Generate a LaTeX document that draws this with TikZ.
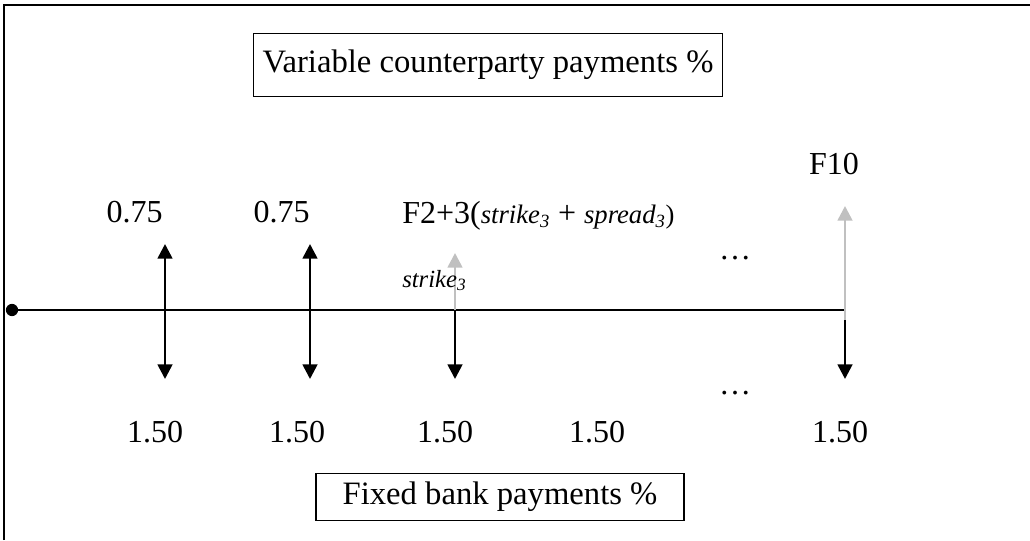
\documentclass[tikz,border=0pt]{standalone}
\usepackage{fontspec}
\setmainfont{Liberation Serif}
\usetikzlibrary{arrows.meta}
\definecolor{lightgr}{RGB}{192,192,192}
\begin{document}
\begin{tikzpicture}[x=0.75pt,y=-0.75pt,
  lbl/.style={font=\fontsize{24}{28}\selectfont, inner sep=0pt},
  boxlbl/.style={draw, line width=1.2pt, font=\fontsize{24.5}{28}\selectfont, inner sep=0pt, minimum height=47.5pt},
  blk/.style={line width=2pt, -{Triangle[width=11pt,length=11pt]}},
  gry/.style={draw=lightgr, line width=2pt, -{Triangle[width=11pt,length=11pt]}, lightgr}
]
\useasboundingbox (0,0) rectangle (1030,540);
% frame
\draw[line width=1.6pt] (4,540) -- (4,5) -- (1030,5);
% boxes
\node[boxlbl, minimum width=352pt] (top) at (488,65) {Variable counterparty payments \%};
\node[boxlbl, minimum width=276pt, minimum height=35pt] (bot) at (500,497) {Fixed bank payments \%};
% timeline
\coordinate (t0) at (12,310);
\coordinate (t1) at (845,310);
\draw[line width=1.5pt] (t0) -- (t1);
\fill (t0) circle (4.6pt);
% arrows
\coordinate (a1) at (165,310); \coordinate (a1u) at (165,244); \coordinate (a1d) at (165,379);
\coordinate (a2) at (310,310); \coordinate (a2u) at (310,244); \coordinate (a2d) at (310,379);
\coordinate (a3) at (455,310); \coordinate (a3u) at (455,253); \coordinate (a3d) at (455,379);
\coordinate (a4) at (845,320); \coordinate (a4u) at (845,206); \coordinate (a4d) at (845,379);
\draw[blk] (a1) -- (a1u); \draw[blk] (a1) -- (a1d);
\draw[blk] (a2) -- (a2u); \draw[blk] (a2) -- (a2d);
\draw[gry] (a3) -- (a3u); \draw[blk] (a3) -- (a3d);
\draw[gry] (a4) -- (a4u); \draw[blk] (a4) -- (a4d);
% labels
\node[lbl, anchor=base east] (v1) at (163,222) {0.75};
\node[lbl, anchor=base east] (v2) at (310,222) {0.75};
\node[lbl, anchor=base west] (v3) at (402,223) {F2+3(\textit{\fontsize{20}{24}\selectfont strike\textsubscript{3}} + \textit{\fontsize{20}{24}\selectfont spread\textsubscript{3}}{\fontsize{20}{24}\selectfont)}};
\node[lbl, anchor=base west] (s3) at (402,287) {\fontsize{18.5}{22}\selectfont\itshape strike\textsubscript{3}};
\node[lbl, anchor=base] (v4) at (834,174) {F10};
\node[lbl] (d1) at (735,258) {…};
\node[lbl] (d2) at (735,393) {…};
\node[lbl] (p1) at (155,432) {1.50};
\node[lbl] (p2) at (297,432) {1.50};
\node[lbl] (p3) at (445,432) {1.50};
\node[lbl] (p4) at (597,432) {1.50};
\node[lbl] (p5) at (840,432) {1.50};
\end{tikzpicture}
\end{document}
